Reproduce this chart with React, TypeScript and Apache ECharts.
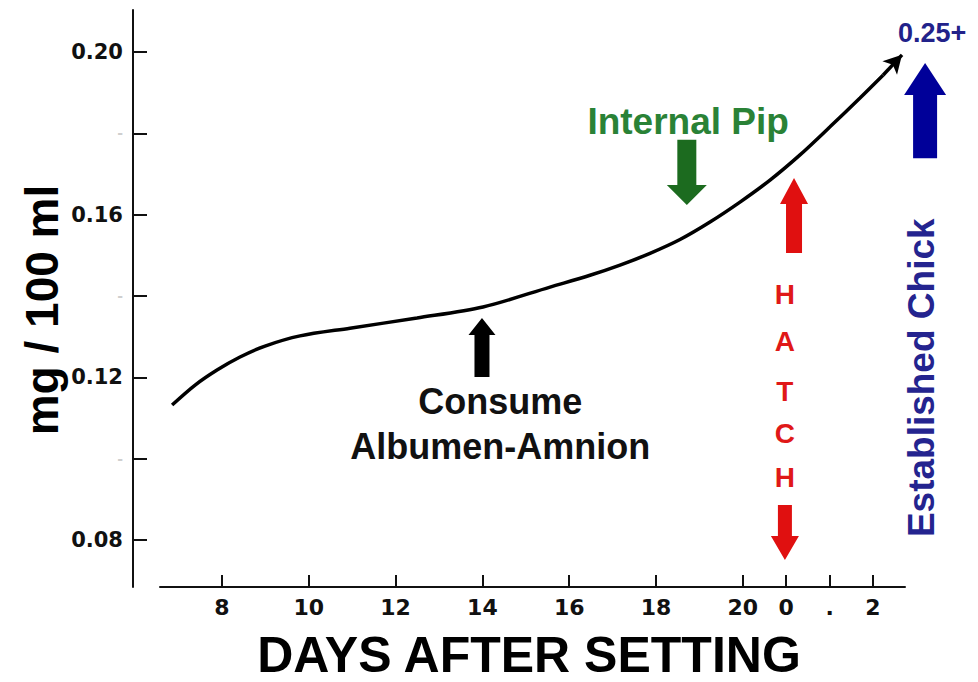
import React, { useEffect, useRef } from "react";
import * as echarts from "echarts";

// Curve: day after setting vs concentration (mg / 100 ml)
const days = [6.85, 7.38, 7.885, 8.415, 8.991, 9.797, 10.949, 12.493, 14.014, 15.558, 16.479, 17.171, 17.862, 18.553, 19.244, 19.935, 20.627, 21.318, 22.009, 22.700, 23.23];
const values = [0.1132, 0.1181, 0.1218, 0.1250, 0.1277, 0.1302, 0.1321, 0.1346, 0.1373, 0.1422, 0.1451, 0.1476, 0.1505, 0.1539, 0.1582, 0.1631, 0.1685, 0.1747, 0.1816, 0.1887, 0.1943];
const curveTip = [23.668, 0.1993];

const xTickValues = [8, 10, 12, 14, 16, 18, 20, 21, 22, 23];
const xTickLabels = ["8", "10", "12", "14", "16", "18", "20", "0", ".", "2"];
const yTickValues = [0.08, 0.1, 0.12, 0.14, 0.16, 0.18, 0.2];
const yTickLabels = ["0.08", "-", "0.12", "-", "0.16", "-", "0.20"];

const X_MIN = 6.571;
const X_MAX = 23.737;
const Y_MIN = 0.06845;
const Y_MAX = 0.21033;

// Annotation anchors in data units: [day, from value, to value]
const consumeArrow = [13.99, 0.1201, 0.1346];
const pipArrow = [18.71, 0.1784, 0.1624];
const hatchUpArrow = [21.18, 0.1506, 0.169];
const hatchDownArrow = [20.97, 0.0886, 0.0751];
const chickArrow = [24.2, 0.1739, 0.1973];

const consumeText = ["Consume", 14.41, 0.114];
const albumenText = ["Albumen-Amnion", 14.41, 0.1031];
const pipText = ["Internal Pip", 18.74, 0.1828];
const hatchLetters = ["H", "A", "T", "C", "H"];
const hatchDay = 20.97;
const hatchValues = [0.1403, 0.1287, 0.1164, 0.1061, 0.0953];
const chickText = ["Established Chick", 24.11, 0.1199];
const quarterText = ["0.25+", 24.36, 0.2047];

const FONT = "'Liberation Sans', Arial, sans-serif";
const TICK_FONT = "'DejaVu Sans', sans-serif";

function arrow(cx: number, tipY: number, baseY: number, headH: number, headW: number, shaftW: number) {
  const dir = tipY < baseY ? 1 : -1; // 1: up arrow
  const hy = tipY + dir * headH;
  return [
    [cx, tipY],
    [cx + headW / 2, hy],
    [cx + shaftW / 2, hy],
    [cx + shaftW / 2, baseY],
    [cx - shaftW / 2, baseY],
    [cx - shaftW / 2, hy],
    [cx - headW / 2, hy],
  ];
}

export default function App() {
  const ref = useRef<HTMLDivElement>(null);
  useEffect(() => {
    const chart = echarts.init(ref.current!, null, { renderer: "svg" });
    const option: any = {
      animation: false,
      backgroundColor: "#ffffff",
      grid: { left: 160, right: 73, top: 10, bottom: 95, containLabel: false },
      xAxis: {
        type: "value",
        min: X_MIN,
        max: X_MAX,
        axisLine: { show: true, lineStyle: { color: "#111", width: 2 } },
        axisTick: {
          show: true,
          inside: true,
          length: 12,
          customValues: xTickValues,
          lineStyle: { color: "#111", width: 2 },
        },
        axisLabel: {
          show: true,
          customValues: xTickValues,
          margin: 9,
          color: "#111",
          fontFamily: TICK_FONT,
          fontWeight: "bold",
          fontSize: 22,
          formatter: (v: number) => {
            const i = xTickValues.findIndex((t) => Math.abs(t - v) < 1e-6);
            return i >= 0 ? xTickLabels[i] : "";
          },
        },
        splitLine: { show: false },
      },
      yAxis: {
        type: "value",
        min: Y_MIN,
        max: Y_MAX,
        offset: 27,
        axisLine: { show: true, lineStyle: { color: "#111", width: 2 } },
        axisTick: {
          show: true,
          inside: true,
          length: 14,
          customValues: yTickValues,
          lineStyle: { color: "#111", width: 2 },
        },
        axisLabel: {
          show: true,
          customValues: yTickValues,
          margin: 10,
          color: "#111",
          fontFamily: TICK_FONT,
          fontWeight: "bold",
          fontSize: 21,
          formatter: (v: number) => {
            const i = yTickValues.findIndex((t) => Math.abs(t - v) < 1e-6);
            if (i < 0) return "";
            const s = yTickLabels[i];
            return s === "-" ? "{f|-}" : s;
          },
          rich: { f: { color: "#cfcfcf", fontSize: 14, fontFamily: TICK_FONT } },
        },
        splitLine: { show: false },
      },
      series: [
        {
          type: "line",
          data: days.map((d, i) => [d, values[i]]),
          smooth: 0.3,
          symbol: "none",
          lineStyle: { color: "#000", width: 3.5 },
          markLine: {
            silent: true,
            symbol: ["none", "arrow"],
            symbolSize: [15, 18],
            label: { show: false },
            lineStyle: { color: "#000", width: 3.5, type: "solid" },
            data: [[{ coord: [days[days.length - 1], values[values.length - 1]] }, { coord: curveTip }]],
          },
        },
      ],
    };
    chart.setOption(option);

    const px = (d: number, v: number) => chart.convertToPixel({ gridIndex: 0 }, [d, v]) as number[];
    const arrowEl = (a: number[], headH: number, headW: number, shaftW: number, color: string) => {
      const p1 = px(a[0], a[1]);
      const p2 = px(a[0], a[2]);
      return {
        type: "polygon",
        silent: true,
        shape: { points: arrow(p1[0], p2[1], p1[1], headH, headW, shaftW) },
        style: { fill: color },
      };
    };
    const textEl = (t: any[], size: number, color: string, weight = "bold", rotation = 0) => {
      const p = px(t[1] as number, t[2] as number);
      return {
        type: "text",
        silent: true,
        x: p[0],
        y: p[1],
        rotation,
        style: {
          text: t[0],
          fill: color,
          font: `${weight} ${size}px ${FONT}`,
          align: "center",
          verticalAlign: "middle",
        },
      };
    };

    const graphic: any[] = [
      arrowEl(consumeArrow, 17, 27, 15, "#000"),
      arrowEl(pipArrow, 20, 40, 19, "#1c6b1f"),
      arrowEl(hatchUpArrow, 26, 28, 16, "#e01010"),
      arrowEl(hatchDownArrow, 24, 28, 14, "#e01010"),
      arrowEl(chickArrow, 32, 42, 24, "#000099"),
      textEl(consumeText, 36, "#111"),
      textEl(albumenText, 36, "#111"),
      textEl(pipText, 37, "#2a8236"),
      textEl(chickText, 37, "#24248f", "bold", Math.PI / 2),
      textEl(quarterText, 27, "#22228a"),
      ...hatchLetters.map((l, i) => textEl([l, hatchDay, hatchValues[i]], 28, "#e01818")),
      {
        type: "text",
        silent: true,
        x: 42,
        y: 310,
        rotation: Math.PI / 2,
        style: {
          text: "mg / 100 ml",
          fill: "#000",
          font: `bold 46px ${FONT}`,
          align: "center",
          verticalAlign: "middle",
        },
      },
      {
        type: "text",
        silent: true,
        x: 529,
        y: 655,
        style: {
          text: "DAYS AFTER SETTING",
          fill: "#000",
          font: `bold 50px ${FONT}`,
          align: "center",
          verticalAlign: "middle",
        },
      },
    ];
    chart.setOption({ graphic });

    return () => chart.dispose();
  }, []);
  return (
    <div
      ref={ref}
      style={{ position: "fixed", left: 0, top: 0, width: 978, height: 682, background: "#fff" }}
    />
  );
}
